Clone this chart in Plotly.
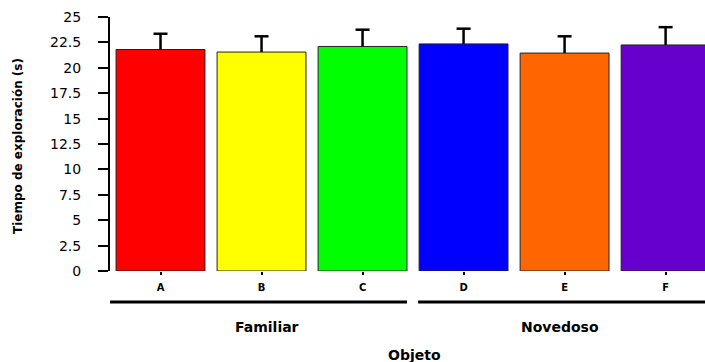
import plotly.graph_objects as go

categories = ["A", "B", "C", "D", "E", "F"]
values = [21.8, 21.55, 22.1, 22.35, 21.45, 22.25]
errors = [1.55, 1.55, 1.65, 1.5, 1.65, 1.75]
zeros = [0, 0, 0, 0, 0, 0]
colors = ["#FF0000", "#FFFF00", "#00FF00", "#0000FF", "#FF6600", "#6600CC"]
y_ticks = [0, 2.5, 5, 7.5, 10, 12.5, 15, 17.5, 20, 22.5, 25]
y_ticktext = ["0", "2.5", "5", "7.5", "10", "12.5", "15", "17.5", "20", "22.5", "25"]
groups = ["Familiar", "Novedoso"]

xs = list(range(len(categories)))
tops = [v + e for v, e in zip(values, errors)]

fig = go.Figure()
fig.add_trace(go.Bar(
    x=xs,
    y=values,
    width=0.88,
    marker=dict(color=colors, line=dict(color="#222222", width=1)),
    showlegend=False,
))
# upward-only error stems
fig.add_trace(go.Scatter(
    x=xs, y=values, mode="none",
    error_y=dict(type="data", symmetric=False, array=errors, arrayminus=zeros,
                 color="black", thickness=2.5, width=0),
    showlegend=False,
))
# caps at the top of each error bar
fig.add_trace(go.Scatter(
    x=xs, y=tops, mode="markers",
    marker=dict(symbol="line-ew-open", size=10, color="black",
                line=dict(color="black", width=2.5)),
    showlegend=False,
))

fig.update_layout(
    width=705, height=362,
    margin=dict(l=110, r=0, t=17, b=91),
    paper_bgcolor="white", plot_bgcolor="white",
    font=dict(family="DejaVu Sans", color="black"),
)
fig.update_xaxes(
    range=[-0.5, 5.39],
    tickvals=xs, ticktext=categories,
    tickfont=dict(family="DejaVu Sans", size=10, color="black", weight="bold"),
    ticks="outside", ticklen=3, tickwidth=2, tickcolor="black",
    showline=False, showgrid=False, zeroline=False,
    ticklabelstandoff=4,
)
fig.update_yaxes(
    range=[0, 25],
    tickvals=y_ticks, ticktext=y_ticktext,
    tickfont=dict(family="DejaVu Sans", size=14, color="black"),
    ticks="outside", ticklen=10, tickwidth=2, tickcolor="black",
    showline=True, linewidth=2, linecolor="black",
    showgrid=False, zeroline=False,
    ticklabelstandoff=14,
)

# group lines
fig.add_shape(type="line", xref="x", yref="paper", x0=-0.55, x1=2.44, y0=-0.122, y1=-0.122,
              line=dict(color="black", width=3))
fig.add_shape(type="line", xref="x", yref="paper", x0=2.55, x1=5.45, y0=-0.122, y1=-0.122,
              line=dict(color="black", width=3))

bold = dict(family="DejaVu Sans", size=14, color="black", weight="bold")
fig.add_annotation(x=1.05, y=-0.219, xref="x", yref="paper", text=groups[0],
                   showarrow=False, font=bold, xanchor="center", yanchor="middle")
fig.add_annotation(x=3.95, y=-0.219, xref="x", yref="paper", text=groups[1],
                   showarrow=False, font=bold, xanchor="center", yanchor="middle")
fig.add_annotation(x=0.511, y=-0.331, xref="paper", yref="paper", text="Objeto",
                   showarrow=False, font=bold, xanchor="center", yanchor="middle")
fig.add_annotation(x=-0.1546, y=0.492, xref="paper", yref="paper",
                   text="Tiempo de exploración (s)", textangle=-90,
                   showarrow=False, font=dict(family="DejaVu Sans", size=12, color="black", weight="bold"),
                   xanchor="center", yanchor="middle")

fig.write_html("out.html")
